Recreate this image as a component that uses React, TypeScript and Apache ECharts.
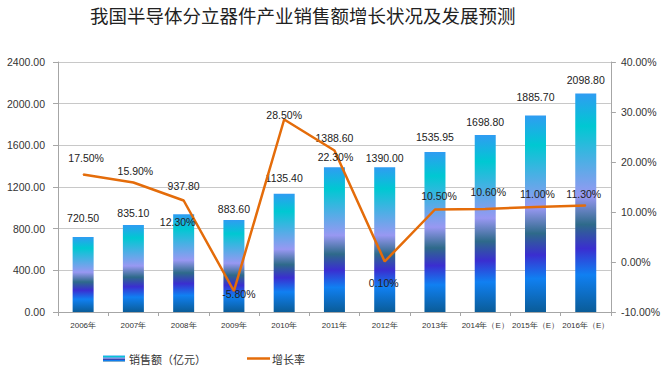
import React, { useEffect, useRef } from "react";
import * as echarts from "echarts";

const categories = ["2006年", "2007年", "2008年", "2009年", "2010年", "2011年", "2012年", "2013年", "2014年（E）", "2015年（E）", "2016年（E）"];
const salesValues = [720.5, 835.1, 937.8, 883.6, 1135.4, 1388.6, 1390.0, 1535.95, 1698.8, 1885.7, 2098.8];
const growthValues = [17.5, 15.9, 12.3, -5.8, 28.5, 22.3, 0.1, 10.5, 10.6, 11.0, 11.3];
const leftTicks = { min: 0, max: 2400, interval: 400 };
const rightTicks = { min: -10, max: 40, interval: 10 };

// label placement tweaks (pixels)
const barLabelDistance = [13, 7, 23, 5, 10, 24, 4, 10, 8, 13, 8];
const lineLabelOffset: [number, number][] = [
  [3, -17], [2, -12], [-6, 21], [5, 3], [0, -5], [1, 6], [-1, 21], [4, -14], [3, -17], [2, -13], [-2, -12],
];

const FONT = "'Liberation Sans', Arial, sans-serif";
const CJK = "'Noto Sans CJK SC', sans-serif";

const barGradient = new echarts.graphic.LinearGradient(0, 0, 0, 1, [
  { offset: 0, color: "#2f9cf2" },
  { offset: 0.15, color: "#00c8d2" },
  { offset: 0.3, color: "#48b0e4" },
  { offset: 0.47, color: "#9898f2" },
  { offset: 0.6, color: "#2e6a8a" },
  { offset: 0.71, color: "#3a2ed0" },
  { offset: 0.83, color: "#1080f2" },
  { offset: 1, color: "#0a5c98" },
]);

export default function App() {
  const ref = useRef<HTMLDivElement>(null);
  useEffect(() => {
    if (!ref.current) return;
    const chart = echarts.init(ref.current, null, { renderer: "svg" });
    chart.setOption({
      animation: false,
      backgroundColor: "#ffffff",
      title: {
        text: "我国半导体分立器件产业销售额增长状况及发展预测",
        left: 90,
        top: 6,
        padding: 0,
        textStyle: { fontFamily: CJK, fontSize: 18.5, fontWeight: "normal", color: "#222" },
      },
      legend: [
        {
          data: ["销售额（亿元）"],
          left: 103,
          top: 353,
          padding: 0,
          itemWidth: 22,
          itemHeight: 6,
          icon: "rect",
          textStyle: { fontFamily: CJK, fontSize: 11, color: "#333", padding: [0, 0, 0, -1] },
        },
        {
          data: ["增长率"],
          left: 247,
          top: 353,
          padding: 0,
          itemWidth: 23,
          itemHeight: 2.5,
          icon: "rect",
          textStyle: { fontFamily: CJK, fontSize: 11, color: "#333", padding: [0, 0, 0, -3] },
        },
      ],
      grid: { left: 58, right: 49, top: 62, bottom: 60, containLabel: false },
      xAxis: {
        type: "category",
        data: categories,
        boundaryGap: true,
        axisLine: { lineStyle: { color: "#a6a6a6", width: 1 } },
        axisTick: { show: true, length: 4, lineStyle: { color: "#a6a6a6" } },
        axisLabel: { fontFamily: FONT, fontSize: 8, color: "#333", margin: 9, interval: 0 },
      },
      yAxis: [
        {
          type: "value",
          min: leftTicks.min,
          max: leftTicks.max,
          interval: leftTicks.interval,
          axisLine: { show: true, lineStyle: { color: "#a6a6a6" } },
          axisTick: { show: true, length: 5, lineStyle: { color: "#a6a6a6" } },
          splitLine: { lineStyle: { color: "#c8c8c8" } },
          axisLabel: {
            fontFamily: FONT,
            fontSize: 10.5,
            color: "#333",
            margin: 13,
            formatter: (v: number) => v.toFixed(2),
          },
        },
        {
          type: "value",
          position: "right",
          min: rightTicks.min,
          max: rightTicks.max,
          interval: rightTicks.interval,
          axisLine: { show: true, lineStyle: { color: "#a6a6a6" } },
          axisTick: { show: true, length: 5, lineStyle: { color: "#a6a6a6" } },
          splitLine: { show: false },
          axisLabel: {
            fontFamily: FONT,
            fontSize: 10.5,
            color: "#333",
            margin: 10,
            formatter: (v: number) => v.toFixed(2) + "%",
          },
        },
      ],
      series: [
        {
          name: "销售额（亿元）",
          type: "bar",
          yAxisIndex: 0,
          barWidth: 21,
          itemStyle: { color: barGradient },
          data: salesValues.map((v, i) => ({
            value: v,
            label: { distance: barLabelDistance[i] },
          })),
          label: {
            show: true,
            position: "top",
            fontFamily: FONT,
            fontSize: 10.5,
            color: "#222",
            formatter: (p: any) => Number(p.value).toFixed(2),
          },
        },
        {
          name: "增长率",
          type: "line",
          yAxisIndex: 1,
          symbol: "circle",
          symbolSize: 1,
          showSymbol: true,
          lineStyle: { color: "#e46c0a", width: 2.5 },
          itemStyle: { color: "#e46c0a" },
          data: growthValues.map((v, i) => ({
            value: v,
            label: { offset: lineLabelOffset[i] },
          })),
          label: {
            show: true,
            position: "inside",
            fontFamily: FONT,
            fontSize: 10.5,
            color: "#222",
            formatter: (p: any) => Number(p.value).toFixed(2) + "%",
          },
          z: 5,
        },
      ],
    });
    return () => chart.dispose();
  }, []);
  return <div ref={ref} style={{ width: 663, height: 372, position: "absolute", left: 0, top: 0 }} />;
}
